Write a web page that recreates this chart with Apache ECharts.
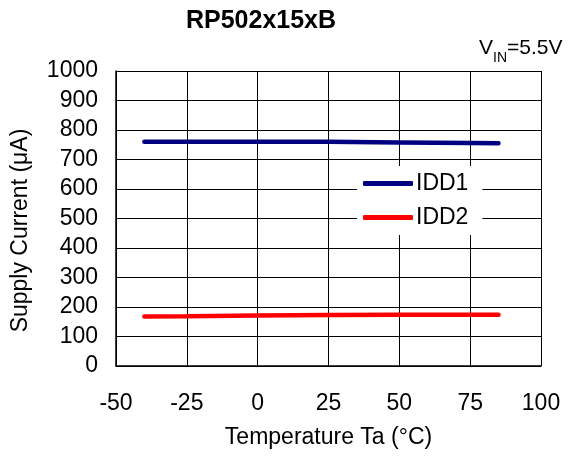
<!DOCTYPE html>
<html><head><meta charset="utf-8">
<script src="https://cdn.jsdelivr.net/npm/echarts@6/dist/echarts.min.js"></script>
<style>html,body{margin:0;padding:0;background:#fff}#c{width:575px;height:460px}</style>
</head><body><div id="c"></div>
<script>
var temps = [-40, -25, 0, 25, 50, 75, 85];
var idd1 = [760, 760, 760, 760, 758, 756, 755];
var idd2 = [168, 169, 171, 173, 174, 174, 174];
var seriesNames = ['IDD1', 'IDD2'];
var xTicks = [-50, -25, 0, 25, 50, 75, 100];
var yTicks = [0, 100, 200, 300, 400, 500, 600, 700, 800, 900, 1000];

var font = '"Liberation Sans", Arial, sans-serif';
var fs = 23;
var chart = echarts.init(document.getElementById('c'), null, {renderer: 'canvas'});
function pairs(xs, ys) { return xs.map(function (x, i) { return [x, ys[i]]; }); }
chart.setOption({
  animation: false,
  backgroundColor: '#fff',
  title: {
    text: 'RP502x15xB', left: 256, top: 4, textAlign: 'center',
    textStyle: {fontFamily: font, fontWeight: 'bold', fontSize: 25, color: '#000'}
  },
  graphic: [{
    type: 'text', left: 479, top: 38, z: 10,
    style: {
      text: '{a|V}{b|IN}{a|=5.5V}',
      fontFamily: font,
      rich: {
        a: {fontFamily: font, fontSize: 21, color: '#000', verticalAlign: 'bottom', lineHeight: 24},
        b: {fontFamily: font, fontSize: 14, color: '#000', verticalAlign: 'bottom', lineHeight: 18, padding: [0, 0, -6, 0]}
      }
    }
  }],
  grid: {left: 116, right: 34, top: 71, bottom: 94, show: false},
  legend: {
    orient: 'vertical', left: 357, top: 166,
    backgroundColor: '#fff', padding: [6, 14, 6, 6],
    itemWidth: 50, itemHeight: 5, itemGap: 11,
    icon: 'roundRect',
    textStyle: {fontFamily: font, fontSize: fs, color: '#000', padding: [0, 0, 0, -2]},
    data: seriesNames
  },
  xAxis: {
    type: 'value', min: xTicks[0], max: xTicks[xTicks.length - 1], interval: 25,
    name: 'Temperature Ta (°C)', nameLocation: 'middle', nameGap: 60,
    nameTextStyle: {fontFamily: font, fontSize: fs, color: '#000'},
    axisLine: {show: true, onZero: false, lineStyle: {color: '#000', width: 1.5}},
    axisTick: {show: true, inside: true, length: 4, lineStyle: {color: '#000'}},
    axisLabel: {fontFamily: font, fontSize: fs, color: '#000', margin: 26},
    splitLine: {show: true, lineStyle: {color: '#000', width: 1}}
  },
  yAxis: {
    type: 'value', min: yTicks[0], max: yTicks[yTicks.length - 1], interval: 100,
    name: 'Supply Current (μA)', nameLocation: 'middle', nameGap: 84,
    nameTextStyle: {fontFamily: font, fontSize: fs, color: '#000', padding: [0, 24, 0, 0]},
    axisLine: {show: true, onZero: false, lineStyle: {color: '#000', width: 1.5}},
    axisTick: {show: true, inside: true, length: 4, lineStyle: {color: '#000'}},
    axisLabel: {fontFamily: font, fontSize: fs, color: '#000', margin: 18, formatter: function (v) { return String(v); }},
    splitLine: {show: true, lineStyle: {color: '#000', width: 1}}
  },
  series: [
    {name: seriesNames[0], type: 'line', data: pairs(temps, idd1), symbol: 'none',
     color: '#000080', lineStyle: {width: 4.5, cap: 'round', color: '#000080'}},
    {name: seriesNames[1], type: 'line', data: pairs(temps, idd2), symbol: 'none',
     color: '#ff0000', lineStyle: {width: 4.5, cap: 'round', color: '#ff0000'}}
  ]
});
</script></body></html>
